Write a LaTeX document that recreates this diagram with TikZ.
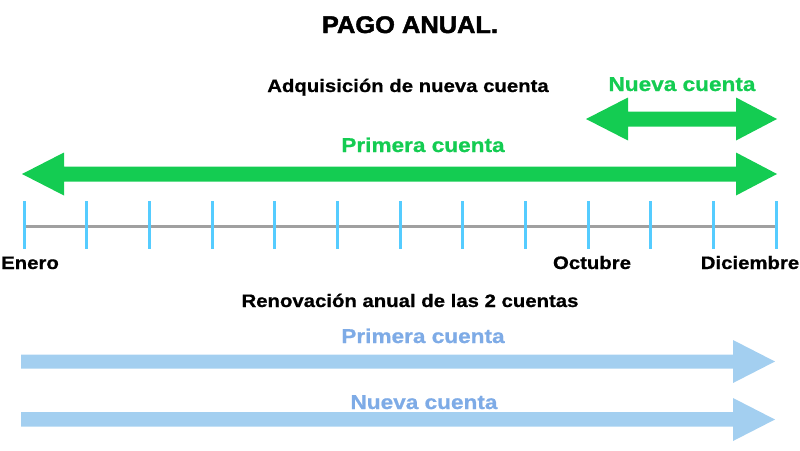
\documentclass[tikz,border=0pt]{standalone}
\usepackage{fontspec}
\setmainfont{Liberation Sans}
\newfontfamily\labfont[FakeStretch=1.13,FakeBold=0.8]{Liberation Sans}
\newfontfamily\titfont[FakeStretch=1.06,FakeBold=2]{Liberation Sans}
\definecolor{vgreen}{HTML}{14CC52}
\definecolor{tickblue}{HTML}{55CCFF}
\definecolor{axisgrey}{HTML}{A0A0A0}
\definecolor{lblue}{HTML}{A3CFF0}
\definecolor{lbluetxt}{HTML}{7EABE6}
\tikzset{
  lab/.style={inner sep=0pt, anchor=base, font=\labfont\bfseries\fontsize{18}{20}\selectfont},
  biglab/.style={inner sep=0pt, anchor=base, font=\labfont\bfseries\fontsize{20}{22}\selectfont},
  titlab/.style={inner sep=0pt, anchor=base, font=\titfont\bfseries\fontsize{24}{26}\selectfont},
  tickline/.style={draw=tickblue, line width=3pt},
  axisline/.style={draw=axisgrey, line width=3pt},
}
\begin{document}
\begin{tikzpicture}[x=1pt,y=-1pt]
\useasboundingbox (0,0) rectangle (800,450);
% title
\node[titlab] (title) at (410,33) {PAGO ANUAL.};
\node[lab] (adq) at (408,92) {Adquisición de nueva cuenta};
\node[biglab, text=vgreen] (nuevag) at (682,91) {Nueva cuenta};
\node[biglab, text=vgreen] (primg) at (423,152) {Primera cuenta};
% green double arrow (nueva cuenta)
\fill[vgreen] (586,119) -- (628,97.5) -- (628,111.5) -- (736,111.5) -- (736,97.5) -- (777,119)
  -- (736,140.5) -- (736,126.5) -- (628,126.5) -- (628,140.5) -- cycle;
% green double arrow (primera cuenta)
\fill[vgreen] (22,174) -- (64,152.5) -- (64,166.5) -- (736,166.5) -- (736,152.5) -- (777,174)
  -- (736,195.5) -- (736,181.5) -- (64,181.5) -- (64,195.5) -- cycle;
% axis
\coordinate (axL) at (24,226);
\coordinate (axR) at (776,226);
\draw[axisline] (axL) -- (axR);
\foreach \i in {0,...,12}{
  \draw[tickline] ({24+\i*62.667},201) -- ({24+\i*62.667},249);
}
\node[lab] (enero) at (30,269) {Enero};
\node[lab] (oct) at (592,269) {Octubre};
\node[lab] (dic) at (750,269) {Diciembre};
% renewal
\node[lab] (renov) at (410,307) {Renovación anual de las 2 cuentas};
\node[biglab, text=lbluetxt] (primb) at (423,343) {Primera cuenta};
\fill[lblue] (21,354.5) -- (733,354.5) -- (733,340) -- (775,361.5) -- (733,383) -- (733,368.5) -- (21,368.5) -- cycle;
\node[biglab, text=lbluetxt] (nuevab) at (424,409) {Nueva cuenta};
\fill[lblue] (21,412) -- (733,412) -- (733,398) -- (775,419.5) -- (733,441) -- (733,426.5) -- (21,426.5) -- cycle;
\end{tikzpicture}
\end{document}
